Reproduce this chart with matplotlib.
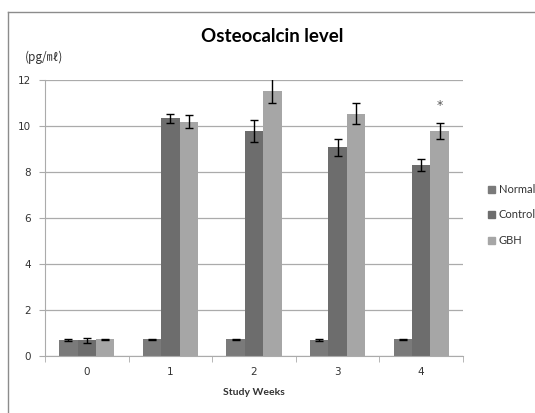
import numpy as np
import matplotlib.pyplot as plt
from matplotlib.lines import Line2D

# Data
weeks = ['0', '1', '2', '3', '4']
groups = ['Normal', 'Control', 'GBH']
normal = [0.70, 0.72, 0.72, 0.70, 0.72]
normal_err = [0.03, 0.02, 0.02, 0.03, 0.04]
control = [0.68, 10.33, 9.77, 9.08, 8.30]
control_err = [0.10, 0.20, 0.47, 0.37, 0.27]
gbh = [0.72, 10.19, 11.53, 10.53, 9.78]
gbh_err = [0.04, 0.28, 0.55, 0.46, 0.35]
star_week = 4
star_y = 10.87

colors = ['#7a7a7a', '#6d6d6d', '#a6a6a6']

W, H = 535, 413
fig = plt.figure(figsize=(W / 100, H / 100), dpi=100)
fig.patch.set_facecolor('white')

ax = fig.add_axes([45 / W, (H - 356) / H, (463 - 45) / W, (356 - 80) / H])

x = np.arange(len(weeks))
bw = 1 / 4.55
series = [(normal, normal_err), (control, control_err), (gbh, gbh_err)]
for i, (vals, errs) in enumerate(series):
    pos = x + (i - 1) * bw
    ax.bar(pos, vals, width=bw, color=colors[i], label=groups[i], zorder=2)
    ax.errorbar(pos, vals, yerr=errs, fmt='none', ecolor='black',
                elinewidth=1, capsize=3, capthick=1, zorder=3)

ax.text(star_week + bw, star_y, '*', ha='center', va='center',
        fontsize=9, color='#555555')

ax.set_xlim(-0.5, 4.5)
ax.set_ylim(0, 12)
ax.set_yticks(range(0, 13, 2))
ax.yaxis.grid(True, color='#ababab', linewidth=0.9, zorder=0)
ax.set_axisbelow(True)
ax.set_xticks(x)
ax.set_xticklabels(weeks)
ax.set_xticks(np.arange(-0.5, 5, 1), minor=True)
ax.tick_params(axis='x', which='major', length=0, pad=8,
               labelsize=7.5, labelcolor='#333333')
ax.tick_params(axis='x', which='minor', length=4, color='#ababab')
ax.tick_params(axis='y', length=4, color='#ababab', labelsize=7.5,
               labelcolor='#333333', pad=6)
for s in ['top', 'right']:
    ax.spines[s].set_visible(False)
for s in ['left', 'bottom']:
    ax.spines[s].set_color('#ababab')
ax.set_xlabel('Study Weeks', fontsize=7.5, fontweight='bold',
              color='#333333', labelpad=8, family='Lato')

fig.text(272 / W, 1 - 37 / H, 'Osteocalcin level', ha='center',
         va='center', fontsize=13.5, fontweight='bold', family='Lato')
fig.text(25 / W, 1 - 57 / H, '(pg/㎖)', ha='left', va='center',
         fontsize=8.5, color='#333333',
         family=['Noto Sans CJK KR', 'DejaVu Sans'])

handles = [plt.Rectangle((0, 0), 1, 1, color=c) for c in colors]
fig.legend(handles, groups, loc='center left',
           bbox_to_anchor=(488 / W, 1 - 215 / H), frameon=False,
           prop={'family': 'Lato', 'size': 8},
           handlelength=0.6, handleheight=0.6,
           handletextpad=0.35, labelspacing=1.3, labelcolor='#333333',
           borderaxespad=0, borderpad=0)

# outer chart frame
fig.add_artist(Line2D([8 / W, 8 / W], [0, 1 - 12 / H], color='#8c8c8c',
                      linewidth=1, transform=fig.transFigure))
fig.add_artist(Line2D([8 / W, 1], [1 - 12 / H, 1 - 12 / H],
                      color='#8c8c8c', linewidth=1,
                      transform=fig.transFigure))

fig.savefig('out.png', dpi=100)
